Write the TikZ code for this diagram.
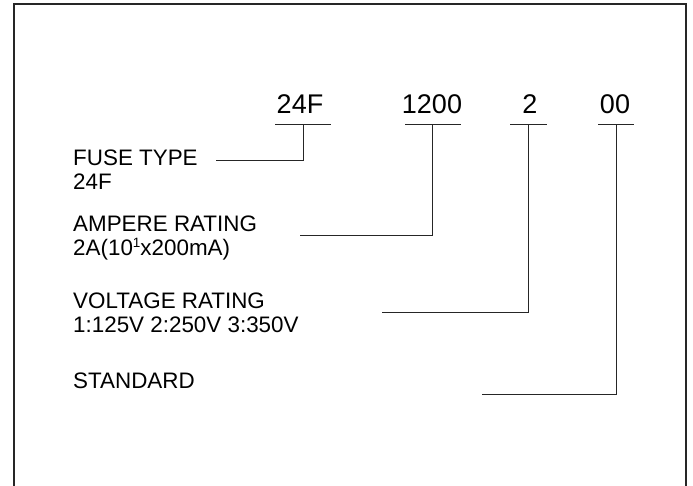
\documentclass[tikz,border=0pt]{standalone}
\usepackage{fontspec}
\setmainfont{Liberation Sans}
\begin{document}
\begin{tikzpicture}[
		x=1pt,
		y=-1pt,
		code/.style={font=\fontsize{27}{32}\selectfont, anchor=base, inner sep=0pt},
		desc/.style={font=\fontsize{22.4}{26}\selectfont, anchor=base west, inner sep=0pt},
		lead/.style={line width=1pt, black!85},
		frame/.style={line width=1.6pt, black!85}
	]
	\useasboundingbox (0,0) rectangle (693,486);

	% ---- moldura (aberta em baixo) -----------------------------------
	\draw[frame] (14,487) -- (14,4) -- (686,4) -- (686,487);

	% ---- codigo do fusivel ------------------------------------------
	\node[code] (ctype) at (300,114) {24F};
	\node[code] (camp)  at (432,114) {1200};
	\node[code] (cvolt) at (530,114) {2};
	\node[code] (cstd)  at (615,114) {00};

	% pontos de juncao sob cada grupo
	\coordinate (jtype) at (303,125);
	\coordinate (jamp)  at (432,125);
	\coordinate (jvolt) at (528,125);
	\coordinate (jstd)  at (616,125);

	% ---- sublinhados ------------------------------------------------
	\draw[lead] (275,125) -- (331,125);
	\draw[lead] (405,125) -- (461,125);
	\draw[lead] (510,125) -- (547,125);
	\draw[lead] (598,125) -- (634,125);

	% ---- descricoes -------------------------------------------------
	\node[desc] (dtype)  at (73,166) {FUSE TYPE};
	\node[desc] (vtype)  at (73,190) {24F};
	\node[desc] (damp)   at (73,232) {AMPERE RATING};
	\node[desc] (vamp)   at (73,256) {2A(10\raisebox{0.4em}{\fontsize{13.5}{14}\selectfont 1}x200mA)};
	\node[desc] (dvolt)  at (73,308) {VOLTAGE RATING};
	\node[desc] (vvolt)  at (73,332) {1:125V 2:250V 3:350V};
	\node[desc] (dstd)   at (73,388) {STANDARD};

	% extremidades livres das linhas de chamada
	\coordinate (ltype) at (216,161);
	\coordinate (lamp)  at (300,236);
	\coordinate (lvolt) at (382,312);
	\coordinate (lstd)  at (482,394);

	% ---- linhas de chamada ------------------------------------------
	\draw[lead] (jtype) |- (ltype);
	\draw[lead] (jamp)  |- (lamp);
	\draw[lead] (jvolt) |- (lvolt);
	\draw[lead] (jstd)  |- (lstd);
\end{tikzpicture}
\end{document}
